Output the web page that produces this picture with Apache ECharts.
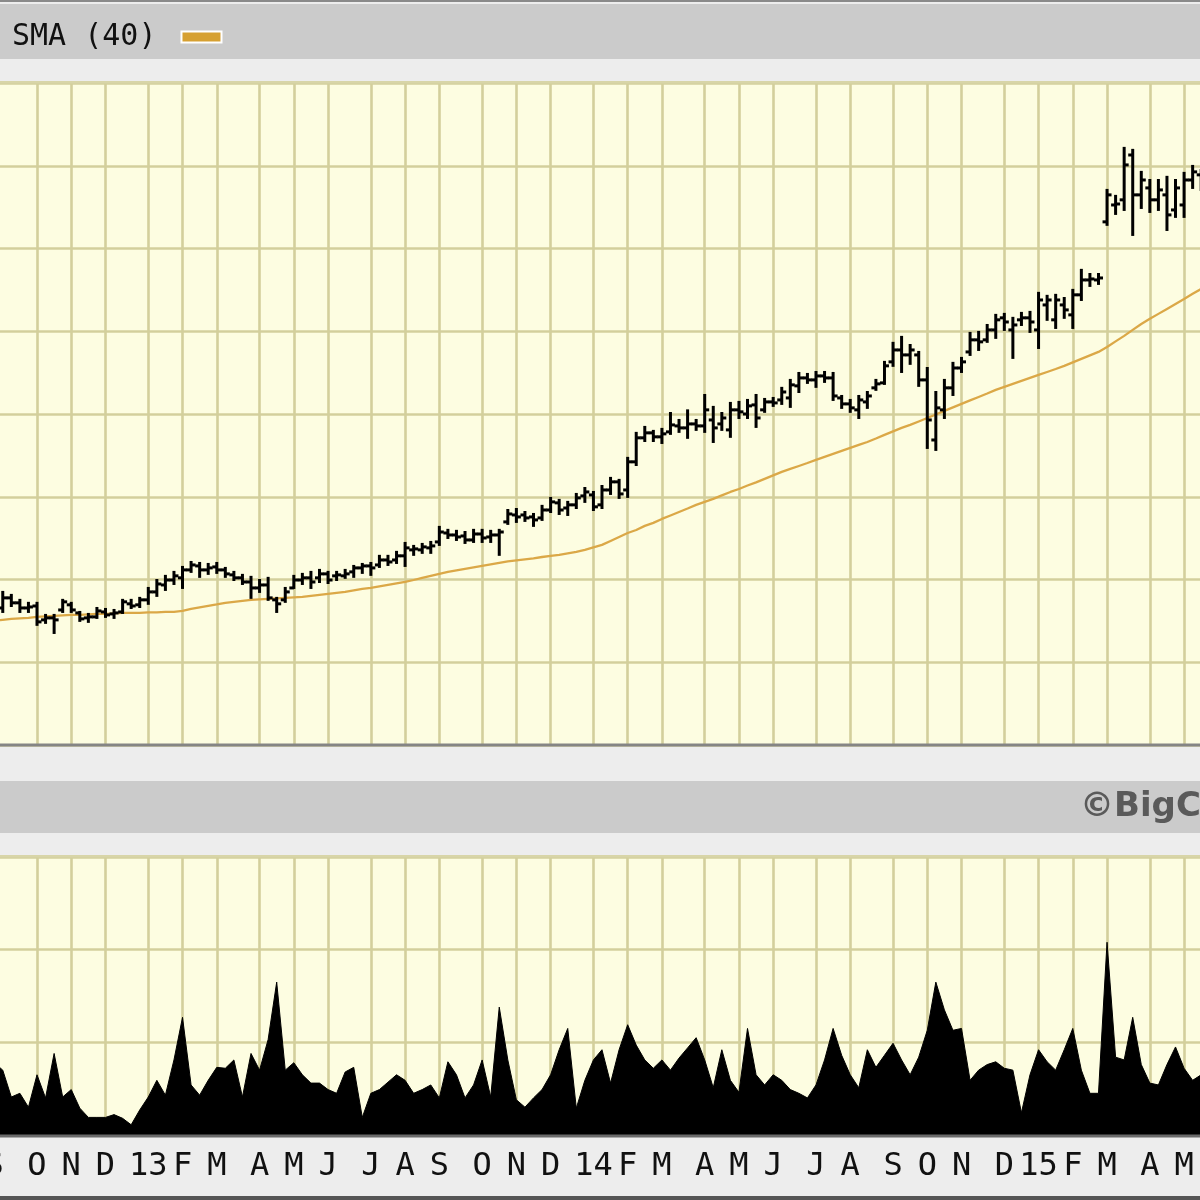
<!DOCTYPE html>
<html><head><meta charset="utf-8">
<script src="https://cdn.jsdelivr.net/npm/echarts@6/dist/echarts.min.js"></script>
<style>html,body{margin:0;padding:0;background:#ededed}#c{width:1200px;height:1200px}</style>
</head><body><div id="c"></div>
<script>
// Month labels along the bottom axis and number of weekly bars in each month
const monthLabels = ['S','O','N','D','13','F','M','A','M','J','J','A','S','O','N','D','14','F','M','A','M','J','J','A','S','O','N','D','15','F','M','A','M'];
const weeksPerMonth = [5,4,4,5, 4,4,5,4,4,5,4,4,5,4,4,5, 4,4,5,4,4,5,4,5,4,4,5,4, 4,4,5,4, 3];

// Weekly OHLC
const opens = [
28.04,28.28,28.89,28.59,28.28,28.40,27.56,27.68,28.16,28.47,
27.98,27.68,27.74,28.04,27.92,28.04,28.53,28.47,28.77,29.25,
29.67,29.97,30.10,30.58,30.82,30.58,30.76,30.58,30.28,30.10,
29.85,29.49,29.67,28.77,28.77,29.49,29.97,30.10,30.10,30.34,
30.22,30.22,30.46,30.70,30.82,30.88,31.18,31.18,31.43,31.79,
31.79,31.91,32.27,32.81,32.69,32.63,32.39,32.75,32.57,32.69,
33.48,33.90,33.90,33.78,33.72,34.20,34.63,34.32,34.51,35.05,
35.11,34.51,35.41,35.90,35.41,37.11,38.56,38.86,38.62,38.92,
39.28,39.16,39.40,39.28,39.64,39.40,39.04,40.25,40.00,40.55,
40.25,40.73,40.85,40.97,41.70,42.18,42.06,42.30,42.18,40.97,
40.61,40.25,40.73,41.58,41.88,43.15,43.87,43.57,43.57,42.06,
38.43,40.25,41.58,42.78,43.75,44.48,44.48,45.08,45.81,45.08,
45.69,45.81,45.08,46.59,45.69,46.59,45.99,47.20,48.10,48.10,
51.61,52.63,52.94,55.65,53.24,53.66,52.94,53.24,52.33,52.63,
54.14,54.45];
const highs = [
28.89,29.25,29.07,28.77,28.59,28.59,27.86,27.86,28.77,28.59,
28.04,27.92,28.28,28.22,28.16,28.77,28.77,28.89,29.49,29.97,
30.22,30.46,30.76,31.06,31.00,30.94,31.00,30.70,30.46,30.28,
30.16,29.97,30.10,28.89,29.49,30.22,30.34,30.46,30.58,30.46,
30.46,30.58,30.82,30.94,31.00,31.43,31.43,31.67,32.21,32.03,
32.15,32.27,33.18,33.00,32.94,32.87,33.00,33.00,32.94,33.00,
34.20,34.26,34.08,33.96,34.45,34.93,34.81,34.69,35.17,35.53,
35.29,35.65,36.14,36.02,37.35,38.86,39.22,38.98,39.10,40.06,
39.64,40.22,39.64,41.15,40.43,40.06,40.67,40.73,40.85,41.15,
40.91,40.97,41.58,42.06,42.48,42.42,42.54,42.54,42.48,41.09,
40.85,41.09,41.33,42.06,43.15,44.30,44.66,44.17,43.75,42.78,
41.33,42.06,43.09,43.39,44.90,44.96,45.38,45.99,46.05,45.81,
46.11,46.17,47.32,47.14,47.20,47.01,47.50,48.71,48.46,48.46,
53.54,53.18,56.08,55.96,54.63,54.14,54.14,54.33,54.14,54.57,
54.99,54.75];
const lows = [
27.68,28.04,28.40,28.04,28.04,27.26,27.38,26.77,28.04,28.04,
27.50,27.44,27.68,27.74,27.68,27.98,28.28,28.34,28.53,29.01,
29.37,29.73,29.49,30.46,30.16,30.34,30.40,30.16,29.97,29.73,
28.89,29.25,28.77,28.04,28.65,29.49,29.73,29.49,29.85,29.79,
29.97,30.10,30.16,30.40,30.28,30.76,30.88,31.00,30.82,31.49,
31.61,31.61,32.09,32.51,32.39,32.21,32.27,32.27,32.27,31.49,
33.36,33.48,33.54,33.24,33.60,34.08,33.96,33.90,34.32,34.69,
34.20,34.32,35.17,34.93,34.99,36.92,38.37,38.37,38.25,38.80,
38.92,38.56,39.04,38.92,38.31,39.04,38.62,39.76,39.76,39.22,
40.13,40.49,40.61,40.43,41.33,41.88,41.64,41.94,40.85,40.37,
40.13,39.76,40.37,41.46,41.82,42.91,42.54,43.03,41.70,37.95,
37.83,39.76,41.15,42.54,43.57,43.87,44.36,44.60,45.08,43.39,
45.38,44.96,43.99,45.69,45.20,45.81,45.20,46.89,47.74,47.86,
51.43,52.09,52.33,50.82,52.45,52.21,52.33,51.12,51.91,51.91,
53.66,53.54];
const closes = [
28.47,28.89,28.59,28.28,28.34,27.44,27.68,27.56,28.65,28.16,
27.62,27.74,28.10,27.86,27.98,28.65,28.40,28.77,29.25,29.73,
29.97,30.22,30.58,30.88,30.58,30.70,30.58,30.34,30.10,29.85,
29.49,29.67,28.89,28.53,29.25,29.97,30.10,29.85,30.34,29.97,
30.28,30.34,30.70,30.82,30.70,31.18,31.06,31.43,31.91,31.85,
31.97,32.03,32.87,32.69,32.57,32.39,32.75,32.51,32.69,32.87,
33.96,33.78,33.72,33.60,34.20,34.69,34.20,34.51,34.93,35.29,
34.39,35.41,35.90,35.17,37.11,38.56,38.86,38.62,38.80,39.34,
39.16,39.40,39.28,40.25,39.16,39.76,40.25,40.13,40.49,39.76,
40.73,40.67,41.33,41.76,42.18,42.06,42.30,42.18,41.09,40.61,
40.37,40.85,41.09,41.82,42.91,43.87,43.57,43.87,42.06,39.64,
40.37,41.58,42.78,43.15,44.48,44.36,45.08,45.69,45.56,45.38,
45.81,45.56,46.89,46.89,46.89,46.29,47.20,48.10,48.16,48.22,
53.24,52.69,55.05,53.24,54.14,52.94,53.54,52.03,53.66,54.14,
54.63,54.14];
// 40-week simple moving average
const sma40 = [
27.50,27.56,27.62,27.65,27.68,27.74,27.77,27.80,27.83,27.86,
27.86,27.89,27.92,27.92,27.95,27.98,27.98,27.98,28.01,28.01,
28.04,28.04,28.10,28.22,28.31,28.40,28.49,28.59,28.65,28.71,
28.77,28.80,28.83,28.86,28.89,28.92,28.95,29.01,29.07,29.13,
29.19,29.25,29.34,29.43,29.49,29.58,29.67,29.76,29.85,29.97,
30.10,30.22,30.34,30.46,30.55,30.64,30.73,30.82,30.91,31.00,
31.09,31.15,31.21,31.27,31.36,31.43,31.49,31.58,31.67,31.79,
31.94,32.09,32.33,32.57,32.81,32.99,33.24,33.42,33.66,33.87,
34.08,34.29,34.51,34.69,34.87,35.08,35.29,35.47,35.68,35.87,
36.08,36.29,36.50,36.68,36.86,37.04,37.23,37.41,37.59,37.77,
37.95,38.13,38.31,38.52,38.74,38.95,39.16,39.34,39.55,39.76,
39.97,40.19,40.40,40.61,40.82,41.03,41.24,41.46,41.64,41.82,
42.00,42.18,42.36,42.54,42.72,42.91,43.12,43.33,43.54,43.75,
44.05,44.39,44.72,45.08,45.44,45.75,46.05,46.35,46.65,46.95,
47.26,47.56];
// Weekly volume (relative units)
const volume = [
78,70,41,45,30,65,40,88,41,49,
29,19,19,19,22,18,11,27,41,59,
43,81,127,54,43,59,73,72,81,41,
88,70,103,165,70,78,65,56,56,49,
45,68,73,19,45,49,57,65,59,45,
49,54,40,79,65,40,54,81,41,138,
81,38,30,40,49,65,92,115,29,59,
81,92,56,92,119,97,81,72,81,70,
83,94,105,81,51,92,59,46,115,65,
54,65,59,49,45,40,54,81,115,86,
65,51,92,73,86,99,81,65,84,113,
165,135,113,115,59,70,76,79,72,70,
24,65,92,79,70,92,115,70,45,45,
208,84,81,127,76,56,54,76,95,72,
59,65];

// Build weekly categories
const weeks = [];
const labelAt = [];
monthLabels.forEach((lab, mi) => {
  for (let w = 0; w < weeksPerMonth[mi]; w++) {
    weeks.push('m' + mi + 'w' + (w + 1));
    labelAt.push(w === 0 ? lab : null);
  }
});
const isMonthStart = (idx) => labelAt[idx] !== null && labelAt[idx] !== undefined;
const ohlc = weeks.map((w, i) => [i, opens[i], highs[i], lows[i], closes[i]]);

const GRIDC = '#d3cf9c';
const PANEL = '#fdfde1';
const MONO = 'DejaVu Sans Mono';

const chart = echarts.init(document.getElementById('c'), null, {renderer: 'canvas'});

function renderOHLC(params, api) {
  const i = api.value(0);
  const pH = api.coord([i, api.value(2)]);
  const pL = api.coord([i, api.value(3)]);
  const pO = api.coord([i, api.value(1)]);
  const pC = api.coord([i, api.value(4)]);
  const st = {stroke: '#000', lineWidth: 3};
  const t = 4.5;
  return {type: 'group', children: [
    {type: 'line', shape: {x1: pH[0], y1: pH[1] - 1, x2: pL[0], y2: pL[1] + 1}, style: st},
    {type: 'line', shape: {x1: pO[0] - t, y1: pO[1], x2: pO[0], y2: pO[1]}, style: st},
    {type: 'line', shape: {x1: pC[0], y1: pC[1], x2: pC[0] + t, y2: pC[1]}, style: st}
  ]};
}

const axisCommon = {
  type: 'category', data: weeks, boundaryGap: false,
  axisLine: {show: false}, axisTick: {show: false}
};

chart.setOption({
  animation: false,
  backgroundColor: '#ededed',
  legend: {
    left: 7, top: 17, align: 'right', itemWidth: 40, itemHeight: 11,
    data: [{name: 'SMA (40)', icon: 'rect', itemStyle: {color: '#d6a032', borderColor: '#ffffff', borderWidth: 2}}],
    textStyle: {fontFamily: MONO, fontSize: 30, color: '#111', padding: [0, 20, 0, 0]},
    selectedMode: false
  },
  grid: [
    {left: -5.8, right: -1.2, top: 83, height: 662, show: true, backgroundColor: PANEL, borderWidth: 0,
      containLabel: false, outerBoundsMode: 'none'},
    {left: -5.8, right: -1.2, top: 857, height: 278, show: true, backgroundColor: PANEL, borderWidth: 0,
      containLabel: false, outerBoundsMode: 'none'}
  ],
  xAxis: [
    Object.assign({}, axisCommon, {gridIndex: 0, axisLabel: {show: false},
      splitLine: {show: true, interval: (idx) => isMonthStart(idx), lineStyle: {color: GRIDC, width: 2.6}}}),
    Object.assign({}, axisCommon, {gridIndex: 1,
      axisLabel: {show: true, interval: (idx) => isMonthStart(idx), formatter: (v, idx) => labelAt[idx] || '',
        fontFamily: MONO, fontSize: 32, color: '#111', margin: 16},
      splitLine: {show: true, interval: (idx) => isMonthStart(idx), lineStyle: {color: GRIDC, width: 2.6}}})
  ],
  yAxis: [
    {gridIndex: 0, type: 'value', min: 20, max: 60, interval: 5, axisLabel: {show: false},
      axisLine: {show: false}, axisTick: {show: false}, splitLine: {lineStyle: {color: GRIDC, width: 2.6}}},
    {gridIndex: 1, type: 'value', min: 0, max: 300, interval: 100, axisLabel: {show: false},
      axisLine: {show: false}, axisTick: {show: false}, splitLine: {lineStyle: {color: GRIDC, width: 2.6}}}
  ],
  series: [
    {name: 'SMA (40)', type: 'line', xAxisIndex: 0, yAxisIndex: 0, data: sma40, symbol: 'none',
      lineStyle: {color: '#dba847', width: 2.3}, itemStyle: {color: '#d6a032'}, z: 2},
    {name: 'Price', type: 'custom', xAxisIndex: 0, yAxisIndex: 0, data: ohlc, renderItem: renderOHLC,
      encode: {x: 0, y: [1, 2, 3, 4]}, z: 3},
    {name: 'Volume', type: 'line', xAxisIndex: 1, yAxisIndex: 1, data: volume, symbol: 'none',
      lineStyle: {color: '#000', width: 1}, areaStyle: {color: '#000', opacity: 1}, z: 2}
  ],
  graphic: [
    {type: 'rect', shape: {x: 0, y: 0, width: 1200, height: 2}, style: {fill: '#8a8a8a'}, z: 50},
    {type: 'rect', shape: {x: 0, y: 4, width: 1200, height: 55}, style: {fill: '#cbcbcb'}, z: -5},
    {type: 'rect', shape: {x: 0, y: 81, width: 1200, height: 2.5}, style: {fill: '#d8d5a8'}, z: 50},
    {type: 'rect', shape: {x: 0, y: 743.5, width: 1200, height: 3}, style: {fill: '#858585'}, z: 50},
    {type: 'rect', shape: {x: 0, y: 781, width: 1200, height: 52}, style: {fill: '#cbcbcb'}, z: -5},
    {type: 'text', style: {text: '©BigCharts', x: 1080, y: 807, verticalAlign: 'middle',
      font: 'bold 34px "DejaVu Sans"', fill: '#5a5a5a'}, z: 50},
    {type: 'rect', shape: {x: 0, y: 855, width: 1200, height: 2.5}, style: {fill: '#d8d5a8'}, z: 50},
    {type: 'rect', shape: {x: 0, y: 1134.5, width: 1200, height: 3}, style: {fill: '#6a6a6a'}, z: 50},
    {type: 'rect', shape: {x: 0, y: 1196, width: 1200, height: 4}, style: {fill: '#555555'}, z: 50}
  ]
});
</script>
</body></html>
